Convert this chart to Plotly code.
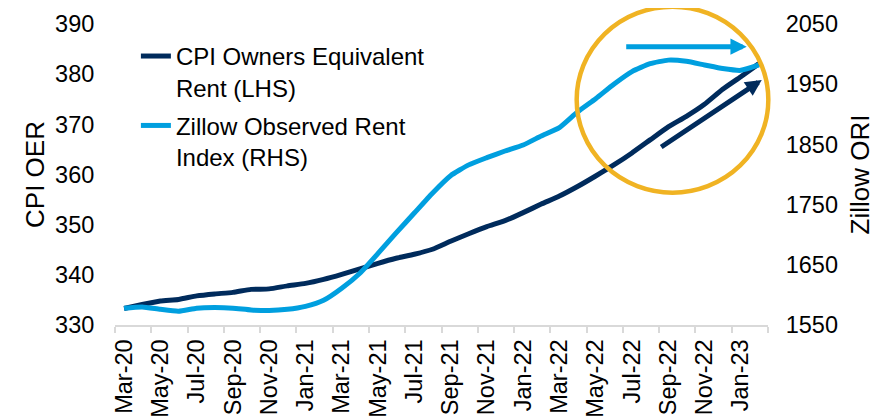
import plotly.graph_objects as go

months = ["Mar-20","Apr-20","May-20","Jun-20","Jul-20","Aug-20","Sep-20","Oct-20","Nov-20","Dec-20",
          "Jan-21","Feb-21","Mar-21","Apr-21","May-21","Jun-21","Jul-21","Aug-21","Sep-21","Oct-21",
          "Nov-21","Dec-21","Jan-22","Feb-22","Mar-22","Apr-22","May-22","Jun-22","Jul-22","Aug-22",
          "Sep-22","Oct-22","Nov-22","Dec-22","Jan-23","Feb-23"]

cpi_oer = [333.3, 334.1, 334.8, 335.1, 335.8, 336.2, 336.5, 337.1, 337.2, 337.8,
           338.3, 339.1, 340.1, 341.2, 342.3, 343.3, 344.1, 345.1, 346.7, 348.2,
           349.6, 350.8, 352.4, 354.1, 355.7, 357.6, 359.7, 361.9, 364.3, 366.9,
           369.5, 371.6, 374.0, 377.0, 379.5, 382.1]

zillow_ori = [1578, 1580, 1576, 1573, 1578, 1579, 1578, 1575, 1574, 1576,
              1581, 1591, 1611, 1636, 1669, 1703, 1736, 1769, 1798, 1816,
              1828, 1839, 1849, 1864, 1878, 1904, 1926, 1950, 1971, 1984,
              1990, 1988, 1982, 1976, 1973, 1982]

left_ticks = [330, 340, 350, 360, 370, 380, 390]
right_ticks = [1550, 1650, 1750, 1850, 1950, 2050]

DARK = "#002B5C"
LIGHT = "#009FDF"
GOLD = "#F0B323"
GRAY = "#D9D9D9"
FONT = "Liberation Sans, Arial, sans-serif"

idx = list(range(len(months)))

fig = go.Figure()
fig.add_trace(go.Scatter(x=idx, y=cpi_oer, mode="lines", name="CPI Owners Equivalent<br>Rent (LHS)",
                         line=dict(color=DARK, width=5, shape="spline", smoothing=0.5),
                         legendgroup="a", yaxis="y"))
fig.add_trace(go.Scatter(x=idx, y=zillow_ori, mode="lines", name="Zillow Observed Rent<br>Index (RHS)",
                         line=dict(color=LIGHT, width=5, shape="spline", smoothing=0.5),
                         legendgroup="b", yaxis="y2"))

tickvals = idx[::2]
ticktext = months[::2]
boundaries = [i - 0.5 for i in range(0, len(months) + 1, 2)]

# page body has an 8px default margin; figure is sized to fill the rest of the window
fig.update_layout(
    width=885, height=409,
    margin=dict(l=107, r=125, t=16, b=92),
    paper_bgcolor="white", plot_bgcolor="white",
    font=dict(family=FONT, size=23, color="black"),
    showlegend=True,
    legend=dict(x=0.032, y=0.967, xanchor="left", yanchor="top", bgcolor="rgba(0,0,0,0)",
                font=dict(size=24), valign="top", traceorder="grouped", tracegroupgap=4),
    xaxis=dict(range=[-0.5, len(months) - 0.5], tickmode="array", tickvals=tickvals, ticktext=ticktext,
               tickangle=-90, ticks="outside", ticklen=3, tickcolor="rgba(0,0,0,0)", automargin=False,
               showline=True, linecolor=GRAY, linewidth=2, showgrid=False, zeroline=False,
               minor=dict(tickmode="array", tickvals=boundaries, ticks="outside", ticklen=6,
                          tickcolor=GRAY, tickwidth=2, showgrid=False),
               tickfont=dict(size=23.5)),
    yaxis=dict(range=[330, 390], tickmode="array", tickvals=left_ticks, showgrid=False, zeroline=False,
               showline=False, ticks="outside", ticklen=15, tickcolor="rgba(0,0,0,0)", automargin=False,
               title=dict(text="CPI OER", font=dict(size=26), standoff=2), tickfont=dict(size=23.5)),
    yaxis2=dict(range=[1550, 2050], tickmode="array", tickvals=right_ticks, overlaying="y", side="right",
                showgrid=False, zeroline=False, showline=False, ticks="outside", ticklen=12,
                tickcolor="rgba(0,0,0,0)", automargin=False,
                title=dict(text="Zillow ORI", font=dict(size=26), standoff=13), tickfont=dict(size=23.5)),
)

# highlight circle
fig.add_shape(type="circle", xref="paper", yref="paper", x0=0.707, x1=1.0005, y0=0.4395, y1=1.0575,
              line=dict(color=GOLD, width=4.5), fillcolor="rgba(0,0,0,0)", layer="above")

# arrows
fig.add_annotation(xref="paper", yref="paper", x=0.9674, y=0.9246, ax=-122, ay=0, text="",
                   showarrow=True, arrowhead=2, arrowsize=0.65, arrowwidth=5, arrowcolor=LIGHT)
fig.add_annotation(xref="paper", yref="paper", x=0.9904, y=0.814, ax=-102, ay=68, text="",
                   showarrow=True, arrowhead=2, arrowsize=0.65, arrowwidth=5, arrowcolor=DARK)

fig.write_html("out.html")
